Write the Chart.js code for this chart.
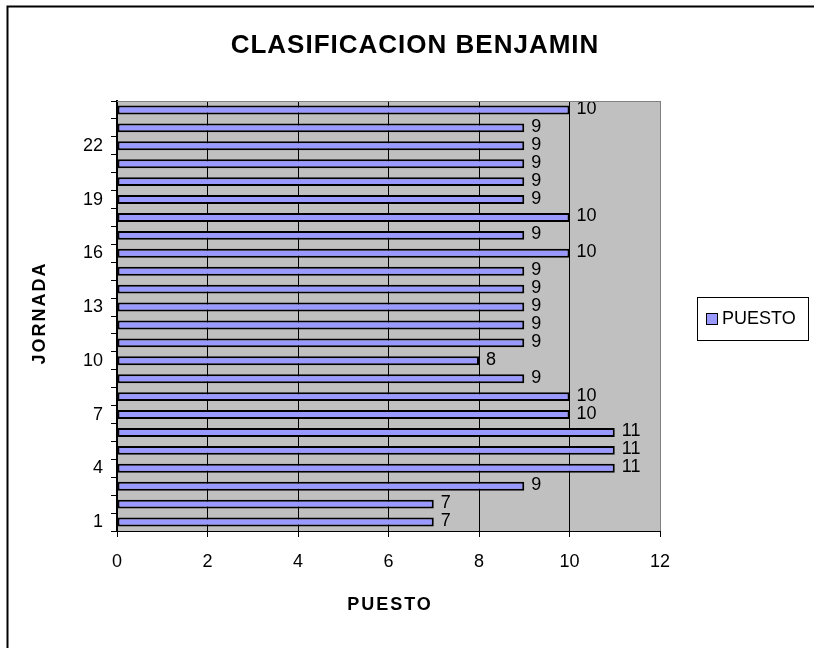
<!DOCTYPE html>
<html>
<head>
<meta charset="utf-8">
<script src="https://cdn.jsdelivr.net/npm/chart.js@4/dist/chart.umd.min.js"></script>
<style>
  html, body { margin: 0; padding: 0; background: #ffffff; }
  #wrap { width: 814px; height: 648px; position: relative; }
</style>
</head>
<body>
<div id="wrap"><canvas id="c" width="814" height="648"></canvas></div>
<script>
const jornadas = ['1','2','3','4','5','6','7','8','9','10','11','12','13','14','15','16','17','18','19','20','21','22','23','24'];
const puesto = [7, 7, 9, 11, 11, 11, 10, 10, 9, 8, 9, 9, 9, 9, 9, 10, 9, 10, 9, 9, 9, 9, 9, 10];
const seriesName = 'PUESTO';
const chartTitle = 'CLASIFICACION BENJAMIN';
const xAxisTitle = 'PUESTO';
const yAxisTitle = 'JORNADA';

const FONT = '"Liberation Sans", Arial, sans-serif';
const BAR_FILL = '#9999ff';

const decor = {
  id: 'decor',
  beforeDraw(chart) {
    const ctx = chart.ctx, a = chart.chartArea;
    ctx.save();
    ctx.fillStyle = '#ffffff';
    ctx.fillRect(0, 0, chart.width, chart.height);
    ctx.fillStyle = '#c0c0c0';
    ctx.fillRect(a.left, a.top, a.right - a.left, a.bottom - a.top);
    ctx.restore();
  },
  afterDatasetsDraw(chart) {
    const ctx = chart.ctx;
    const meta = chart.getDatasetMeta(0);
    ctx.save();
    ctx.fillStyle = '#000';
    ctx.font = '18px ' + FONT;
    ctx.textAlign = 'left';
    ctx.textBaseline = 'middle';
    meta.data.forEach((bar, i) => {
      ctx.fillText(String(puesto[i]), bar.x + 7, bar.y - 1);
    });
    ctx.restore();
  },
  afterDraw(chart) {
    const ctx = chart.ctx, a = chart.chartArea;
    ctx.save();
    // plot top/right border
    ctx.strokeStyle = '#808080';
    ctx.lineWidth = 1;
    ctx.beginPath();
    ctx.moveTo(a.left, a.top + 0.5);
    ctx.lineTo(a.right + 0.5, a.top + 0.5);
    ctx.lineTo(a.right + 0.5, a.bottom);
    ctx.stroke();
    // outer frame (top and left edges)
    ctx.strokeStyle = '#000';
    ctx.lineWidth = 2;
    ctx.beginPath();
    ctx.moveTo(7.5, 648);
    ctx.lineTo(7.5, 6.5);
    ctx.lineTo(814, 6.5);
    ctx.stroke();
    // title
    ctx.fillStyle = '#000';
    ctx.textAlign = 'center';
    ctx.textBaseline = 'middle';
    ctx.letterSpacing = '1px';
    ctx.font = 'bold 26px ' + FONT;
    ctx.fillText(chartTitle, 415, 46);
    // x axis title
    ctx.letterSpacing = '2px';
    ctx.font = 'bold 18px ' + FONT;
    ctx.fillText(xAxisTitle, 390, 605);
    // y axis title
    ctx.save();
    ctx.translate(40, 313);
    ctx.rotate(-Math.PI / 2);
    ctx.fillText(yAxisTitle, 0, 0);
    ctx.restore();
    ctx.letterSpacing = '0px';
    // legend
    ctx.strokeStyle = '#000';
    ctx.lineWidth = 1;
    ctx.strokeRect(697.5, 297.5, 111, 43);
    ctx.fillStyle = BAR_FILL;
    ctx.fillRect(706, 313, 11, 11);
    ctx.strokeRect(706.5, 313.5, 11, 11);
    ctx.fillStyle = '#000';
    ctx.font = '18px ' + FONT;
    ctx.textAlign = 'left';
    ctx.fillText(seriesName, 722, 319);
    ctx.restore();
  }
};

new Chart(document.getElementById('c'), {
  type: 'bar',
  data: {
    labels: jornadas,
    datasets: [{
      label: seriesName,
      data: puesto,
      backgroundColor: BAR_FILL,
      borderColor: '#000',
      borderWidth: 2,
      borderSkipped: false,
      barPercentage: 0.5,
      categoryPercentage: 1.0
    }]
  },
  options: {
    indexAxis: 'y',
    responsive: false,
    animation: false,
    devicePixelRatio: 1,
    layout: { padding: { left: 57, right: 154, top: 101, bottom: 57 } },
    plugins: {
      legend: { display: false },
      title: { display: false },
      tooltip: { enabled: false }
    },
    scales: {
      x: {
        min: 0, max: 12,
        afterFit(s) { s.height = 60; },
        ticks: {
          stepSize: 2, color: '#000', maxRotation: 0, padding: 14,
          font: { family: FONT, size: 18 }
        },
        grid: {
          color: (c) => (c.tick && c.tick.value === 12) ? '#808080' : '#000',
          tickColor: '#000',
          tickLength: 6,
          lineWidth: 1
        },
        border: { color: '#000', width: 1 }
      },
      y: {
        reverse: true,
        afterFit(s) { s.width = 60; },
        ticks: {
          autoSkip: false, color: '#000', padding: 8,
          font: { family: FONT, size: 18 },
          callback: function (v, i) { return i % 3 === 0 ? this.getLabelForValue(v) : ''; }
        },
        grid: {
          drawOnChartArea: false,
          tickColor: '#000',
          tickLength: 6,
          offset: true
        },
        border: { color: '#000', width: 2 }
      }
    }
  },
  plugins: [decor]
});
</script>
</body>
</html>
